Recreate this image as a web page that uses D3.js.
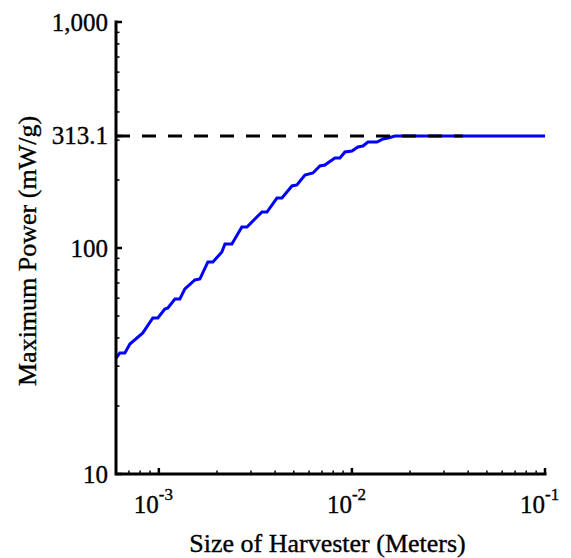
<!DOCTYPE html>
<html>
<head>
<meta charset="utf-8">
<script src="https://cdn.jsdelivr.net/npm/d3@7"></script>
<style>
  html, body { margin: 0; padding: 0; background: #fff; }
  svg { display: block; }
  text { font-family: "Liberation Serif", "Times New Roman", serif; fill: #000; stroke: #000; stroke-width: 0.35px; }
</style>
</head>
<body>
<svg id="chart" width="571" height="558"></svg>
<script>
// ---- Data ----
const sizeMeters = [0.00060, 0.000628, 0.000667, 0.000708, 0.000826, 0.000931, 0.000988,
  0.001074, 0.001114, 0.001211, 0.001285, 0.001364, 0.001537, 0.001631, 0.001794, 0.001905,
  0.00212, 0.00220, 0.00239, 0.00269, 0.00286, 0.00342, 0.00363, 0.00409, 0.00434, 0.00489,
  0.00519, 0.00571, 0.00628, 0.00683, 0.00724, 0.00816, 0.00867, 0.00920, 0.01000, 0.01074,
  0.01140, 0.01211, 0.01349, 0.01449, 0.01538, 0.0167, 0.1];
const maxPower = [32.6, 34.3, 34.3, 37.6, 42.1, 49.0, 49.0,
  53.7, 54.3, 59.5, 59.5, 65.9, 72.2, 72.9, 86.7, 86.7,
  96.0, 104.2, 104.2, 123.9, 123.9, 144.3, 144.3, 166.4, 166.4, 188.1,
  190.0, 210.4, 214.7, 230.6, 233.0, 250.1, 250.1, 266.0, 268.7, 279.9,
  282.7, 294.4, 294.4, 303.6, 306.7, 313.1, 313.1];
const limitValue = 313.1;
const limitXRange = [0.0006, 0.0376];
const xDomain = [0.0006, 0.1];
const yDomain = [10, 1000];
const yTickValues = [10, 100, 313.1, 1000];
const yTickLabels = ["10", "100", "313.1", "1,000"];
const xTickValues = [0.001, 0.01, 0.1];
const xTickBase = ["10", "10", "10"];
const xTickExp = ["-3", "-2", "-1"];
const xLabel = "Size of Harvester (Meters)";
const yLabel = "Maximum Power (mW/g)";

// ---- Layout ----
const svg = d3.select("#chart");
const mLeft = 116, mRight = 545, mTop = 22, mBottom = 474;

const x = d3.scaleLog().domain(xDomain).range([mLeft, mRight]);
const y = d3.scaleLog().domain(yDomain).range([mBottom, mTop]);

const xMinor = [];
for (let e = -4; e <= -1; e++) for (let m = 2; m <= 9; m++) {
  const v = m * Math.pow(10, e);
  if (v > xDomain[0] && v < xDomain[1]) xMinor.push(v);
}
const yMinor = [];
for (let e = 1; e <= 2; e++) for (let m = 2; m <= 9; m++) {
  const v = m * Math.pow(10, e);
  if (v > yDomain[0] && v < yDomain[1]) yMinor.push(v);
}

// ---- Data line ----
const line = d3.line().x(d => x(d[0])).y(d => y(d[1]));
svg.append("path")
  .datum(sizeMeters.map((s, i) => [s, maxPower[i]]))
  .attr("d", line)
  .attr("fill", "none")
  .attr("stroke", "#0000ff")
  .attr("stroke-width", 3)
  .attr("stroke-linejoin", "miter");

// dashed limit line
svg.append("line")
  .attr("x1", x(limitXRange[0])).attr("x2", x(limitXRange[1]))
  .attr("y1", y(limitValue)).attr("y2", y(limitValue))
  .attr("stroke", "#000").attr("stroke-width", 3)
  .attr("stroke-dasharray", "14,12");

// ---- Axes ----
const axisG = svg.append("g");
axisG.selectAll(".xminor").data(xMinor).enter().append("line")
  .attr("x1", d => x(d)).attr("x2", d => x(d))
  .attr("y1", mBottom).attr("y2", mBottom - 3.5)
  .attr("stroke", "#000").attr("stroke-width", 1.5);
axisG.selectAll(".yminor").data(yMinor).enter().append("line")
  .attr("y1", d => y(d)).attr("y2", d => y(d))
  .attr("x1", mLeft).attr("x2", mLeft + 3.5)
  .attr("stroke", "#000").attr("stroke-width", 1.5);
axisG.selectAll(".xmajor").data(xTickValues).enter().append("line")
  .attr("x1", d => x(d)).attr("x2", d => x(d))
  .attr("y1", mBottom).attr("y2", mBottom - 6)
  .attr("stroke", "#000").attr("stroke-width", 2.5);
axisG.selectAll(".ymajor").data(yTickValues).enter().append("line")
  .attr("y1", d => y(d)).attr("y2", d => y(d))
  .attr("x1", mLeft).attr("x2", mLeft + 6)
  .attr("stroke", "#000").attr("stroke-width", 2.5);
axisG.append("path")
  .attr("d", `M${mLeft},${mTop}V${mBottom}H${mRight}`)
  .attr("fill", "none").attr("stroke", "#000").attr("stroke-width", 3)
  .attr("stroke-linecap", "square");

// y tick labels
svg.selectAll(".ylab").data(yTickValues).enter().append("text")
  .attr("x", mLeft - 8)
  .attr("y", d => y(d))
  .attr("dy", "0.34em")
  .attr("text-anchor", "end")
  .attr("font-size", 25)
  .text((d, i) => yTickLabels[i]);

// x tick labels (10 with superscript)
xTickValues.forEach((v, i) => {
  const px = x(v);
  svg.append("text")
    .attr("x", px).attr("y", 513)
    .attr("text-anchor", "end")
    .attr("font-size", 25)
    .text(xTickBase[i]);
  svg.append("text")
    .attr("x", px).attr("y", 500)
    .attr("text-anchor", "start")
    .attr("font-size", 17)
    .text(xTickExp[i]);
});

// axis titles
svg.append("text")
  .attr("x", (mLeft + mRight) / 2 - 3).attr("y", 552)
  .attr("text-anchor", "middle")
  .attr("font-size", 26)
  .text(xLabel);
svg.append("text")
  .attr("transform", `translate(36,${(mTop + mBottom) / 2 + 3}) rotate(-90)`)
  .attr("text-anchor", "middle")
  .attr("font-size", 26)
  .text(yLabel);
</script>
</body>
</html>
